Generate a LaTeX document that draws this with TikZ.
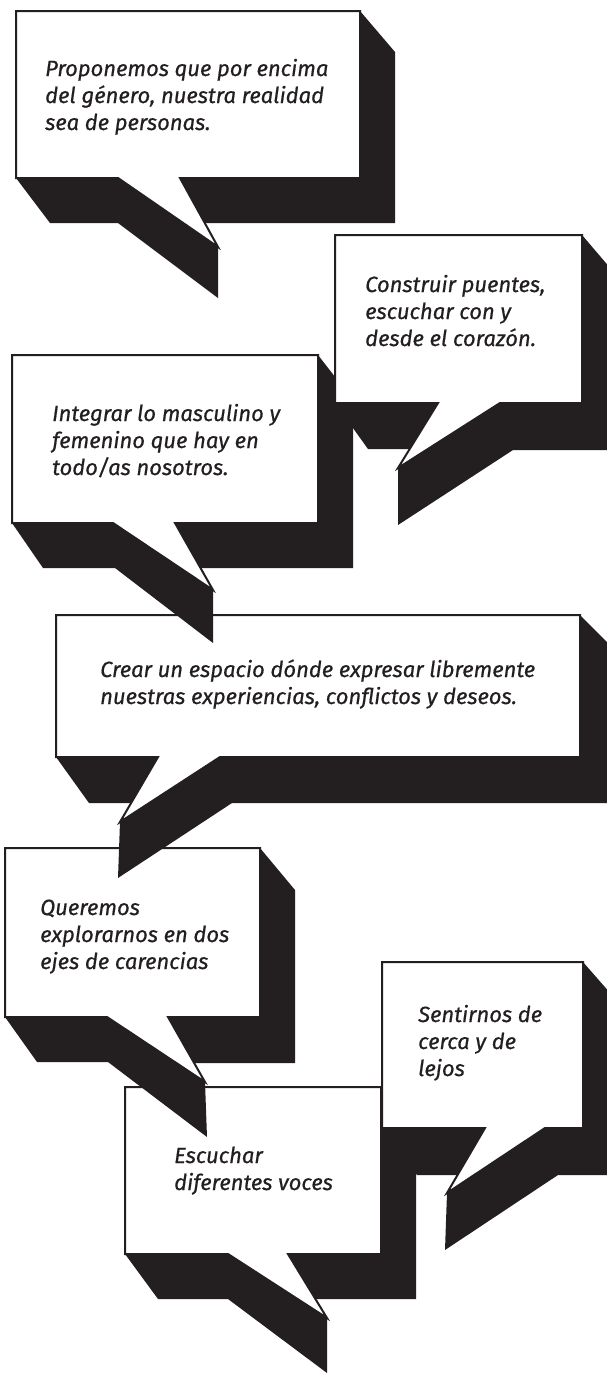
\documentclass[tikz,border=0pt]{standalone}
\usepackage{fontspec}
\setmainfont{Fira Sans}[ItalicFeatures={FakeBold=0.6}]
\definecolor{ink}{HTML}{231F20}
\tikzset{
  shade3d/.style={fill=ink, draw=none},
  bubble/.style={fill=white, draw=ink, line width=2, line join=miter},
  txt/.style={anchor=base west, inner sep=0, text=ink,
    font={\fontsize{22}{27}\selectfont\itshape}}
}
\newcommand{\lines}[1]{\begin{tabular}[t]{@{}l@{}}#1\end{tabular}}
\begin{document}
\begin{tikzpicture}[x=1pt,y=-1pt]
\useasboundingbox (0,0) rectangle (606,1374);
\fill[white] (0,0) rectangle (606,1374);

% 7 Escuchar
\fill[shade3d] (125,1087)--(381,1087)--(416,1130)--(416,1299)--(315,1299)--(327,1318)--(327,1373)--(228,1299)--(158,1299)--(125,1254)--cycle;
\draw[bubble] (125,1087)--(381,1087)--(381,1254)--(288,1254)--(327,1318)--(228,1254)--(125,1254)--cycle;
\node[txt] (escuchar) at (174,1163) {\lines{Escuchar\\diferentes voces}};

% 6 Sentirnos
\fill[shade3d] (382,962)--(583,962)--(618,1002)--(618,1175)--(558,1175)--(445,1250)--(447,1193)--(458,1175)--(417,1175)--(382,1128)--cycle;
\draw[bubble] (382,962)--(583,962)--(583,1128)--(545,1128)--(447,1193)--(485,1128)--(382,1128)--cycle;
\node[txt] (sentirnos) at (418,1022) {\lines{Sentirnos de\\cerca y de\\lejos}};

% 5 Queremos
\fill[shade3d] (5,848)--(260,848)--(295,890)--(295,1063)--(194,1063)--(205,1082)--(207,1137)--(108,1062)--(37,1062)--(5,1017)--cycle;
\draw[bubble] (5,848)--(260,848)--(260,1017)--(168,1017)--(205,1082)--(107,1017)--(5,1017)--cycle;
\node[txt] (queremos) at (40,915) {\lines{Queremos\\explorarnos en dos\\ejes de carencias}};

% 4 Crear
\fill[shade3d] (56,615)--(580,615)--(615,650)--(615,803)--(232,803)--(118,878)--(120,822)--(131,803)--(89,803)--(56,757)--cycle;
\draw[bubble] (56,615)--(580,615)--(580,757)--(220,757)--(120,822)--(158,757)--(56,757)--cycle;
\node[txt] (crear) at (100,677) {\lines{Crear un espacio dónde expresar libremente\\nuestras experiencias, conflictos y deseos.}};

% 3 Integrar
\fill[shade3d] (12,355)--(318,355)--(353,400)--(353,568)--(200,568)--(213,590)--(213,643)--(115,568)--(43,568)--(12,523)--cycle;
\draw[bubble] (12,355)--(318,355)--(318,523)--(175,523)--(213,590)--(113,523)--(12,523)--cycle;
\node[txt] (integrar) at (52,421) {\lines{Integrar lo masculino y\\femenino que hay en\\todo/as nosotros.}};

% 2 Construir
\fill[shade3d] (335,235)--(582,235)--(617,276)--(617,450)--(513,450)--(398,525)--(398,468)--(410,449)--(368,449)--(335,403)--cycle;
\draw[bubble] (335,235)--(582,235)--(582,403)--(500,403)--(398,468)--(438,403)--(335,403)--cycle;
\node[txt] (construir) at (365,292) {\lines{Construir puentes,\\escuchar con y\\desde el corazón.}};

% 1 Proponemos
\fill[shade3d] (16,11)--(360,11)--(395,52)--(395,223)--(205,223)--(218,247)--(218,298)--(118,223)--(50,223)--(16,178)--cycle;
\draw[bubble] (16,11)--(360,11)--(360,178)--(180,178)--(218,247)--(118,178)--(16,178)--cycle;
\node[txt] (proponemos) at (45,76) {\lines{Proponemos que por encima\\del género, nuestra realidad\\sea de personas.}};
\end{tikzpicture}
\end{document}
